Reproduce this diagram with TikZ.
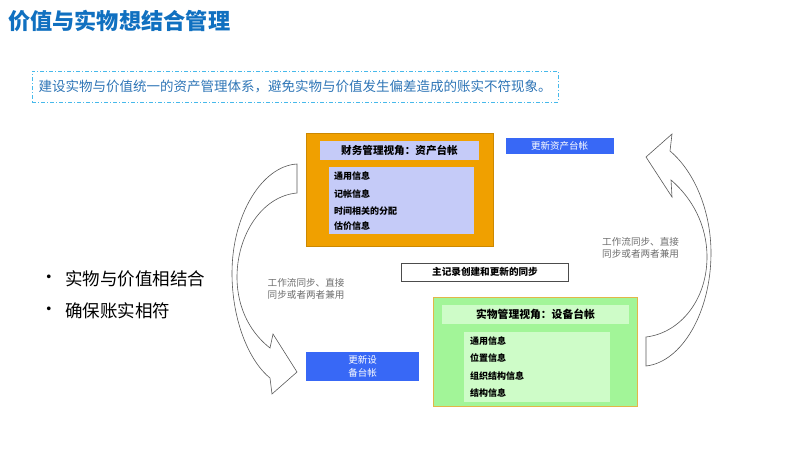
\documentclass[tikz,border=0pt]{standalone}
\usepackage{fontspec}
\setmainfont{Noto Sans CJK SC}
\definecolor{titleblue}{RGB}{16,112,192}
\definecolor{dashblue}{RGB}{70,185,235}
\definecolor{textblue}{RGB}{46,117,182}
\definecolor{orangefill}{RGB}{240,160,0}
\definecolor{lav}{RGB}{197,203,248}
\definecolor{boxblue}{RGB}{56,104,246}
\definecolor{greenfill}{RGB}{162,245,152}
\definecolor{greentitle}{RGB}{206,252,200}
\definecolor{greenborder}{RGB}{226,182,72}
\definecolor{graytext}{RGB}{110,110,110}
\tikzset{
  panel/.style={anchor=north west, inner sep=0pt, outer sep=0pt},
  item/.style={anchor=west, inner sep=0pt, font=\fontsize{9}{11}\selectfont\bfseries},
  bluebox/.style={panel, fill=boxblue, text=white, font=\fontsize{9.5}{12.5}\selectfont, align=center},
  curvearrow/.style={draw=black!65, line width=0.6pt, fill=white},
  note/.style={anchor=north west, inner sep=0pt, text=graytext, font=\fontsize{9.6}{12}\selectfont, align=left},
  bullettext/.style={anchor=west, inner sep=0pt, font=\fontsize{17.5}{20}\selectfont}
}
\begin{document}
\begin{tikzpicture}[x=1pt,y=-1pt]
\useasboundingbox (0,0) rectangle (800,450);

% title
\node[anchor=west, inner sep=0pt, text=titleblue, font=\fontsize{22.2}{24}\selectfont\bfseries] (title) at (8,21) {价值与实物想结合管理};

% dashed statement box
\node[panel, draw=dashblue, line width=0.8pt, dash pattern=on 4pt off 2pt on 1pt off 2pt,
      minimum width=526pt, minimum height=31pt, text=textblue, font=\fontsize{13.5}{15}\selectfont] (stmt) at (32,71)
  {建设实物与价值统一的资产管理体系，避免实物与价值发生偏差造成的账实不符现象。};

% bullets
\node[bullettext] (b1) at (40,279) {•};
\node[bullettext] (t1) at (65,279) {实物与价值相结合};
\node[bullettext] (b2) at (40,311) {•};
\node[bullettext] (t2) at (65,311) {确保账实相符};

% left curved arrow
\draw[curvearrow] (297,164) .. controls (262,166) and (232,215) .. (232,273)
      .. controls (232,322) and (250,362) .. (270,378)
      -- (272,394) -- (297,372) -- (273,334) -- (270,348)
      .. controls (252,334) and (237,310) .. (237,277)
      .. controls (237,235) and (262,196) .. (297,193) -- cycle;

% right curved arrow
\draw[curvearrow] (670,151) .. controls (695,172) and (711,212) .. (711,253)
      .. controls (711,312) and (682,362) .. (646,366)
      -- (646,337)
      .. controls (680,333) and (707,300) .. (707,257)
      .. controls (707,225) and (692,198) .. (671,180)
      -- (672,197) -- (646,157) -- (672,134) -- cycle;

% finance panel
\node[panel, fill=orangefill, draw=orangefill!85!black, line width=0.4pt, minimum width=187pt, minimum height=113pt] (fin) at (306,133) {};
\node[panel, fill=lav, minimum width=159pt, minimum height=19pt, font=\fontsize{10.6}{12}\selectfont\bfseries] (fintitle) at (320,141) {财务管理视角：资产台帐};
\node[panel, fill=lav, minimum width=145pt, minimum height=67pt] (finlist) at (329,167) {};
\node[item] (f1) at (334,176) {通用信息};
\node[item] (f2) at (334,194) {记帐信息};
\node[item] (f3) at (334,211) {时间相关的分配};
\node[item] (f4) at (334,226) {估价信息};

% update asset ledger
\node[bluebox, minimum width=108pt, minimum height=16.5pt] (upfin) at (505.5,137.8) {更新资产台帐};

% sync box
\node[panel, draw=black!70, line width=0.7pt, fill=white, minimum width=167pt, minimum height=18pt, font=\fontsize{9.6}{11}\selectfont\bfseries] (sync) at (401.5,263) {主记录创建和更新的同步};

% equipment panel
\node[panel, fill=greenfill, draw=greenborder, line width=0.9pt, minimum width=204pt, minimum height=109pt] (eq) at (433,297.5) {};
\node[panel, fill=greentitle, minimum width=187pt, minimum height=19pt, font=\fontsize{10.8}{12}\selectfont\bfseries] (eqtitle) at (442,305) {实物管理视角：设备台帐};
\node[panel, fill=greentitle, minimum width=146pt, minimum height=70pt] (eqlist) at (464,332) {};
\node[item] (e1) at (470,341) {通用信息};
\node[item] (e2) at (470,358.5) {位置信息};
\node[item] (e3) at (470,376) {组织结构信息};
\node[item] (e4) at (470,393.5) {结构信息};

% update equipment ledger
\node[bluebox, minimum width=113pt, minimum height=28.5pt] (upeq) at (306,352.3) {更新设\\备台帐};

% notes
\node[note] (n1) at (267.5,278) {工作流同步、直接\\同步或者两者兼用};
\node[note] (n2) at (602,237.5) {工作流同步、直接\\同步或者两者兼用};
\end{tikzpicture}
\end{document}
